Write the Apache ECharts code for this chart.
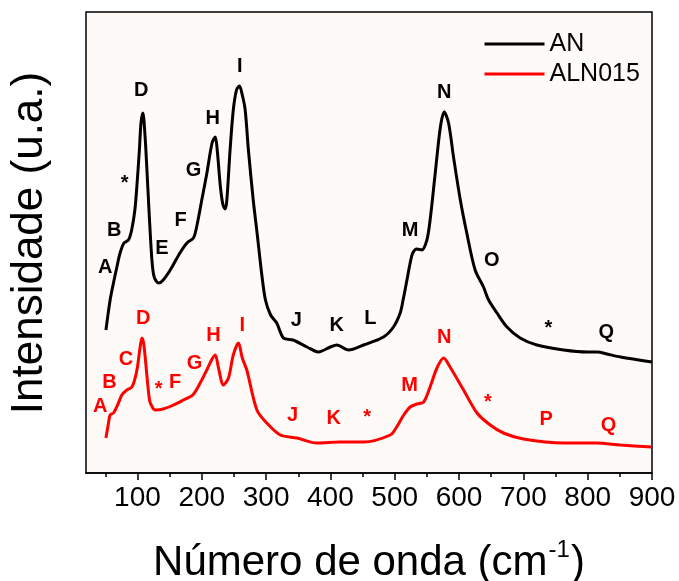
<!DOCTYPE html>
<html>
<head>
<meta charset="utf-8">
<style>
  html, body { margin: 0; padding: 0; background: #ffffff; }
  #chart { width: 679px; height: 581px; }
</style>
<script src="https://cdn.jsdelivr.net/npm/echarts@6/dist/echarts.min.js"></script>
</head>
<body>
<div id="chart"></div>
<script>
// Raman spectra: wavenumber (cm-1) vs. intensity (arbitrary units, offset traces)
const anSpectrum = [
  [51, 143], [57.5, 173], [62.7, 190], [68, 206], [73, 220], [79, 230], [86, 233],
  [91, 243], [96, 263], [99, 286], [103, 323], [105.5, 350], [108.4, 360], [111.5, 340],
  [114.5, 306], [118.5, 256], [122.5, 213], [126, 196], [133, 190], [140, 193],
  [151, 203], [166, 220], [177, 230], [187, 235], [192, 246], [200, 273], [208, 300],
  [216, 330], [221, 336], [224, 323], [229, 286], [233, 268], [236.5, 264], [239, 273],
  [244, 323], [249, 363], [254, 383], [258.5, 387], [263, 378], [267.5, 363],
  [272.5, 323], [280, 273], [286, 240], [293, 200], [299, 173], [307, 158],
  [316.5, 150], [327, 135], [342, 133], [363.5, 126], [381.5, 121], [400, 126],
  [410, 128], [428, 123], [451.5, 128], [482.5, 136], [498, 146], [508.5, 160],
  [513, 173], [519, 193], [524, 210], [528, 220], [534.5, 224], [542, 223], [550, 233],
  [555, 253], [563, 300], [571, 346], [577, 361], [583.7, 350], [591.4, 316],
  [602, 273], [612, 240], [625, 203], [638, 186], [646, 173], [659, 160],
  [674.5, 146], [695, 135], [721, 128], [762.5, 123], [800, 121], [815, 121],
  [830, 119], [851, 116], [900, 111]
];

const aln015Spectrum = [
  [51, 35], [55, 50], [57.5, 58], [62.7, 60], [70.5, 70], [75.7, 78], [83.5, 83],
  [91.3, 86], [96.4, 95], [100, 106], [104.2, 126], [107, 135], [109.5, 130],
  [112, 116], [118.7, 73], [123, 66], [127.5, 63], [140, 64], [156, 68], [171.5, 73],
  [186, 78], [197.5, 90], [210, 106], [216, 114], [221, 118], [226, 105],
  [233.7, 88], [241.5, 95], [249, 118], [257, 130], [263, 115], [270, 103],
  [285.7, 63], [301, 50], [322, 38], [348, 35], [379, 30], [415, 31], [451.5, 31],
  [493, 38], [503, 46], [514, 58], [524, 66], [534.5, 69], [545, 71], [555, 86],
  [565.6, 105], [576, 115], [586, 106], [607, 83], [628, 60], [648.5, 48],
  [669, 40], [700, 34], [762.5, 30], [814.5, 30], [850.7, 28], [900, 26]
];

// Band assignments: [wavenumber, intensity, text]
const anBandLabels = [
  [50, 206, 'A'], [64, 243, 'B'], [80, 290, '*'], [106, 383, 'D'], [138, 225, 'E'],
  [167, 253, 'F'], [187, 303, 'G'], [217, 355, 'H'], [259, 407, 'I'], [347, 153, 'J'],
  [410, 148, 'K'], [462, 155, 'L'], [524, 243, 'M'], [577, 381, 'N'], [651, 213, 'O'],
  [739, 145, '*'], [829, 141, 'Q']
];

const alnBandLabels = [
  [42, 67, 'A'], [56.5, 91, 'B'], [82, 114, 'C'], [109, 155, 'D'], [133, 84, '*'],
  [158.6, 91, 'F'], [188.6, 110, 'G'], [218, 138, 'H'], [263, 148, 'I'], [341, 58, 'J'],
  [405, 55, 'K'], [457, 56, '*'], [523, 88, 'M'], [577, 136, 'N'], [645, 71, '*'],
  [735.6, 54, 'P'], [832.5, 48, 'Q']
];

const majorTicks = [100, 200, 300, 400, 500, 600, 700, 800, 900];
const minorTicks = [50, 150, 250, 350, 450, 550, 650, 750, 850];

const FONT = "'Liberation Sans', Arial, sans-serif";

const chart = echarts.init(document.getElementById('chart'), null, { renderer: 'canvas' });

function labelSeries(data, color) {
  return {
    type: 'scatter',
    data: data,
    symbolSize: 0,
    silent: true,
    z: 5,
    itemStyle: { color: color, opacity: 1 },
    label: {
      show: true,
      position: 'inside',
      formatter: p => p.data[2],
      color: color,
      opacity: 1,
      textBorderWidth: 0,
      fontFamily: FONT,
      fontWeight: 'bold',
      fontSize: 20
    }
  };
}

chart.setOption({
  backgroundColor: '#ffffff',
  animation: false,
  textStyle: { fontFamily: FONT },
  grid: {
    left: 86, right: 27, top: 12, bottom: 108,
    show: true,
    backgroundColor: '#fefaf7',
    borderColor: '#000',
    borderWidth: 1.5
  },
  legend: {
    data: ['AN', 'ALN015'],
    orient: 'vertical',
    left: 483,
    top: 31.5,
    padding: 0,
    itemWidth: 60,
    itemHeight: 25,
    itemGap: 5,
    itemStyle: { opacity: 0 },
    lineStyle: { width: 3 },
    textStyle: { fontFamily: FONT, fontSize: 25, color: '#000' }
  },
  xAxis: [
    {
      type: 'value', min: 20, max: 900, position: 'bottom',
      axisLine: { show: true, lineStyle: { color: '#000', width: 1.5 } },
      axisTick: { show: true, customValues: majorTicks, length: 7, lineStyle: { color: '#000', width: 1.5 } },
      axisLabel: { show: true, customValues: majorTicks, fontSize: 28, color: '#000', fontFamily: FONT, margin: 11 },
      splitLine: { show: false }
    },
    {
      type: 'value', min: 20, max: 900, position: 'bottom',
      axisLine: { show: false },
      axisTick: { show: true, customValues: minorTicks, length: 4, lineStyle: { color: '#000', width: 1.5 } },
      axisLabel: { show: false },
      splitLine: { show: false }
    }
  ],
  yAxis: {
    type: 'value', min: 0, max: 461,
    axisLine: { show: false }, axisTick: { show: false },
    axisLabel: { show: false }, splitLine: { show: false }
  },
  graphic: [
    {
      type: 'text',
      x: 369,
      y: 538,
      style: {
        text: '{m|Número de onda (cm}{s|-1}{m|)}',
        fill: '#000',
        align: 'center',
        rich: {
          m: { fontFamily: FONT, fontSize: 42, lineHeight: 46, verticalAlign: 'bottom' },
          s: { fontFamily: FONT, fontSize: 24, lineHeight: 46, verticalAlign: 'top', padding: [0, 1, 0, 1] }
        }
      }
    },
    {
      type: 'text',
      x: 30,
      y: 243,
      rotation: Math.PI / 2,
      style: {
        text: 'Intensidade (u.a.)',
        fontFamily: FONT,
        fontSize: 44,
        fill: '#000',
        align: 'center',
        verticalAlign: 'middle'
      }
    }
  ],
  series: [
    {
      name: 'AN', type: 'line', data: anSpectrum, symbol: 'none', smooth: 0.3,
      lineStyle: { color: '#000', width: 3 }, itemStyle: { color: '#000' }, z: 3
    },
    {
      name: 'ALN015', type: 'line', data: aln015Spectrum, symbol: 'none', smooth: 0.3,
      lineStyle: { color: '#ff0000', width: 3 }, itemStyle: { color: '#ff0000' }, z: 3
    },
    labelSeries(anBandLabels, '#000'),
    labelSeries(alnBandLabels, '#ff0000')
  ]
});
</script>
</body>
</html>
